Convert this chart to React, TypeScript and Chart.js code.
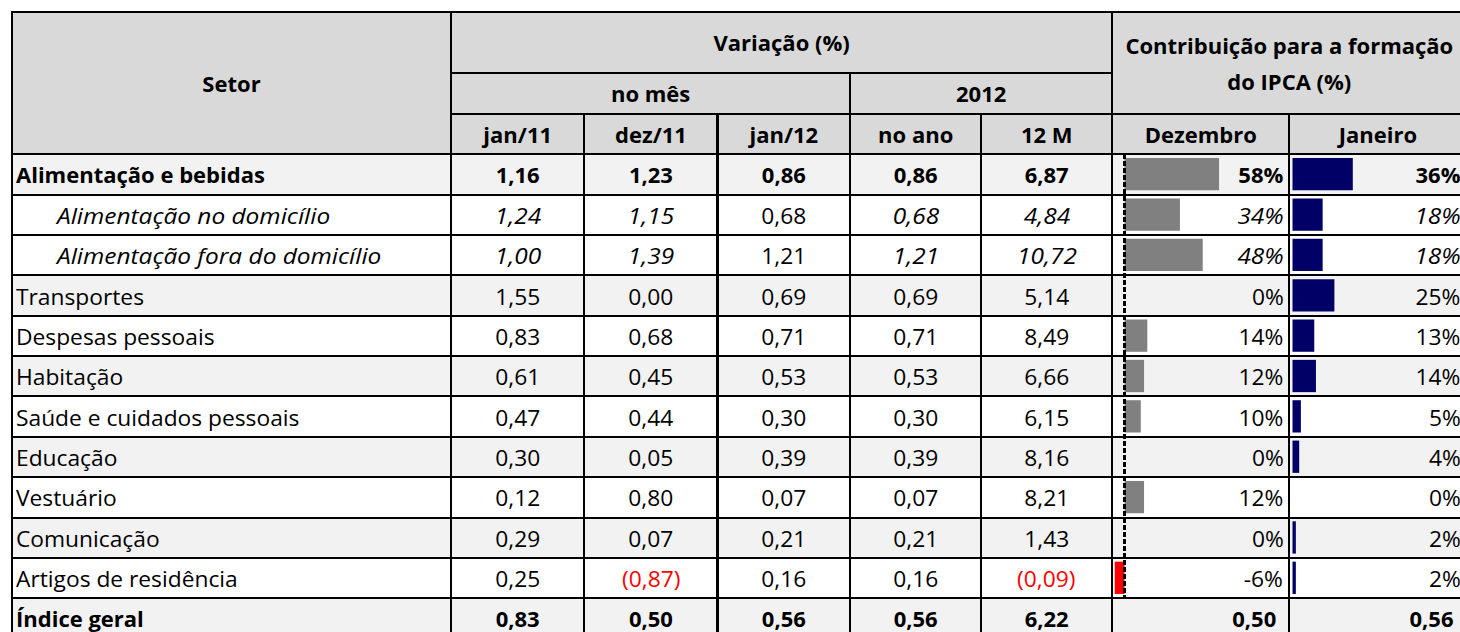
import React, { useEffect, useRef } from "react";
import { Chart, registerables } from "chart.js";

Chart.register(...registerables);

// ---------- data ----------
const sectors = [
  "Alimentação e bebidas",
  "Alimentação no domicílio",
  "Alimentação fora do domicílio",
  "Transportes",
  "Despesas pessoais",
  "Habitação",
  "Saúde e cuidados pessoais",
  "Educação",
  "Vestuário",
  "Comunicação",
  "Artigos de residência",
  "Índice geral",
];
const jan11 = [1.16, 1.24, 1.0, 1.55, 0.83, 0.61, 0.47, 0.3, 0.12, 0.29, 0.25, 0.83];
const dez11 = [1.23, 1.15, 1.39, 0.0, 0.68, 0.45, 0.44, 0.05, 0.8, 0.07, -0.87, 0.5];
const jan12 = [0.86, 0.68, 1.21, 0.69, 0.71, 0.53, 0.3, 0.39, 0.07, 0.21, 0.16, 0.56];
const noAno = [0.86, 0.68, 1.21, 0.69, 0.71, 0.53, 0.3, 0.39, 0.07, 0.21, 0.16, 0.56];
const m12 = [6.87, 4.84, 10.72, 5.14, 8.49, 6.66, 6.15, 8.16, 8.21, 1.43, -0.09, 6.22];
const contribDez = [58, 34, 48, 0, 14, 12, 10, 0, 12, 0, -6];
const contribJan = [36, 18, 18, 25, 13, 14, 5, 4, 0, 2, 2];
const periodLabels = ["jan/11", "dez/11", "jan/12", "no ano", "12 M"];
const contribLabels = ["Dezembro", "Janeiro"];

// ---------- layout ----------
const XL = [12, 451, 584.4, 717.5, 850.2, 981.2, 1112.2, 1289.3, 1466.5];
const ROW_H = 40.36;
const YL: number[] = [12.3, 72.7, 114.3];
for (let i = 0; i <= 12; i++) YL.push(154.3 + i * ROW_H);

const GRAY_ROWS = new Set([0, 3, 5, 7, 9, 11]);
const FONT = "'Open Sans', sans-serif";

const fmt = (v: number) =>
  v < 0 ? `(${(-v).toFixed(2).replace(".", ",")})` : v.toFixed(2).replace(".", ",");

function Cell(props: {
  c0: number; c1: number; r0: number; r1: number;
  bg: string; children?: React.ReactNode; style?: React.CSSProperties;
}) {
  const { c0, c1, r0, r1, bg, children, style } = props;
  return (
    <div
      style={{
        position: "absolute",
        left: XL[c0] - 1,
        top: YL[r0] - 1,
        width: XL[c1] - XL[c0] + 2,
        height: YL[r1] - YL[r0] + 2,
        border: "2px solid #000",
        boxSizing: "border-box",
        background: bg,
        display: "flex",
        alignItems: "center",
        justifyContent: "center",
        whiteSpace: "nowrap",
        overflow: "hidden",
        ...style,
      }}
    >
      {children}
    </div>
  );
}

function Txt(props: { s: number; origin: string; children: React.ReactNode }) {
  return (
    <span
      style={{
        display: "inline-block",
        transform: `scaleX(${props.s})`,
        transformOrigin: props.origin,
      }}
    >
      {props.children}
    </span>
  );
}

const zeroLine = {
  id: "zeroLine",
  afterDatasetsDraw(chart: any) {
    const x = chart.scales.x.getPixelForValue(0);
    const { top, bottom } = chart.chartArea;
    const ctx = chart.ctx;
    ctx.save();
    ctx.strokeStyle = "#000";
    ctx.lineWidth = 3;
    ctx.setLineDash([5, 2]);
    ctx.beginPath();
    ctx.moveTo(x, top);
    ctx.lineTo(x, bottom);
    ctx.stroke();
    ctx.restore();
  },
};

function BarColumn(props: {
  values: number[]; color: string; left: number; width: number;
  min: number; max: number; dashed: boolean;
}) {
  const ref = useRef<HTMLCanvasElement | null>(null);
  const { values, color, left, width, min, max, dashed } = props;
  const height = Math.round(ROW_H * 11);
  useEffect(() => {
    if (!ref.current) return;
    const chart = new Chart(ref.current, {
      type: "bar",
      data: {
        labels: sectors.slice(0, 11),
        datasets: [
          {
            data: values,
            backgroundColor: values.map((v) => (v < 0 ? "#ff0000" : color)),
            borderWidth: 0,
            barPercentage: 0.8,
            categoryPercentage: 1,
          },
        ],
      },
      options: {
        indexAxis: "y",
        animation: false,
        responsive: false,
        events: [],
        layout: { padding: 0 },
        plugins: { legend: { display: false }, tooltip: { enabled: false } },
        scales: {
          x: { display: false, min, max },
          y: { display: false },
        },
      },
      plugins: dashed ? [zeroLine] : [],
    } as any);
    return () => chart.destroy();
  }, []);
  return (
    <canvas
      ref={ref}
      width={width}
      height={height}
      style={{ position: "absolute", left, top: 154, width, height, zIndex: 5 }}
    />
  );
}

export default function App() {
  const HBG = "#d9d9d9";
  const cells: React.ReactNode[] = [];
  const hdr: React.CSSProperties = { fontWeight: 700 };
  // header
  cells.push(<Cell key="setor" c0={0} c1={1} r0={0} r1={3} bg={HBG} style={hdr}>Setor</Cell>);
  cells.push(<Cell key="var" c0={1} c1={6} r0={0} r1={1} bg={HBG} style={hdr}>Variação (%)</Cell>);
  cells.push(<Cell key="mes" c0={1} c1={4} r0={1} r1={2} bg={HBG} style={hdr}>no mês</Cell>);
  cells.push(<Cell key="y2012" c0={4} c1={6} r0={1} r1={2} bg={HBG} style={hdr}>2012</Cell>);
  cells.push(
    <Cell key="contrib" c0={6} c1={8} r0={0} r1={2} bg={HBG}
      style={{ ...hdr, flexDirection: "column", lineHeight: "36px", textAlign: "center" }}>
      <div>Contribuição para a formação</div>
      <div>do IPCA (%)</div>
    </Cell>
  );
  periodLabels.forEach((l, i) =>
    cells.push(<Cell key={"p" + i} c0={1 + i} c1={2 + i} r0={2} r1={3} bg={HBG} style={hdr}>{l}</Cell>)
  );
  contribLabels.forEach((l, i) =>
    cells.push(<Cell key={"c" + i} c0={6 + i} c1={7 + i} r0={2} r1={3} bg={HBG} style={hdr}>{l}</Cell>)
  );

  // body
  const cols = [jan11, dez11, jan12, noAno, m12];
  sectors.forEach((name, i) => {
    const r = 3 + i;
    const bg = GRAY_ROWS.has(i) ? "#f2f2f2" : "#ffffff";
    const bold = i === 0 || i === 11;
    const sub = i === 1 || i === 2;
    const st = (italic: boolean): React.CSSProperties => ({
      fontWeight: bold ? 700 : 400,
      fontStyle: italic ? "italic" : "normal",
    });
    const sc = (italic: boolean) => (bold ? 1 : italic ? 1.11 : 1.035);
    cells.push(
      <Cell key={"n" + i} c0={0} c1={1} r0={r} r1={r + 1} bg={bg}
        style={{ ...st(sub), justifyContent: "flex-start", paddingLeft: sub ? 44 : 3 }}>
        <Txt s={sc(sub)} origin="left center">{name}</Txt>
      </Cell>
    );
    cols.forEach((arr, j) => {
      const v = arr[i];
      const italic = sub && j !== 2;
      cells.push(
        <Cell key={`v${i}-${j}`} c0={1 + j} c1={2 + j} r0={r} r1={r + 1} bg={bg}
          style={{ ...st(italic), color: v < 0 ? "#ff0000" : "#000" }}>
          <Txt s={sc(italic)} origin="center center">{fmt(v)}</Txt>
        </Cell>
      );
    });
    if (i < 11) {
      cells.push(
        <Cell key={"d" + i} c0={6} c1={7} r0={r} r1={r + 1} bg={bg}
          style={{ ...st(sub), justifyContent: "flex-end", paddingRight: 5 }}>
          <Txt s={sc(sub)} origin="right center">{contribDez[i] + "%"}</Txt>
        </Cell>
      );
      cells.push(
        <Cell key={"j" + i} c0={7} c1={8} r0={r} r1={r + 1} bg={bg}
          style={{ ...st(sub), justifyContent: "flex-end", paddingRight: 5 }}>
          <Txt s={sc(sub)} origin="right center">{contribJan[i] + "%"}</Txt>
        </Cell>
      );
    } else {
      cells.push(
        <Cell key="dTot" c0={6} c1={7} r0={r} r1={r + 1} bg={bg}
          style={{ ...st(false), justifyContent: "flex-end", paddingRight: 12 }}>
          {fmt(dez11[i])}
        </Cell>
      );
      cells.push(
        <Cell key="jTot" c0={7} c1={8} r0={r} r1={r + 1} bg={bg}
          style={{ ...st(false), justifyContent: "flex-end", paddingRight: 12 }}>
          {fmt(jan12[i])}
        </Cell>
      );
    }
  });

  return (
    <div
      style={{
        position: "absolute",
        left: 0,
        top: 0,
        width: 1460,
        height: 632,
        overflow: "hidden",
        background: "#fff",
        fontFamily: FONT,
        fontSize: 22,
        color: "#000",
      }}
    >
      {cells}
      <BarColumn values={contribDez} color="#808080" left={1114} width={175}
        min={-10.5 / 1.63} max={(175 - 10.5) / 1.63} dashed={true} />
      <BarColumn values={contribJan} color="#000066" left={1291} width={170}
        min={-1.5 / 1.675} max={(170 - 1.5) / 1.675} dashed={false} />
    </div>
  );
}
